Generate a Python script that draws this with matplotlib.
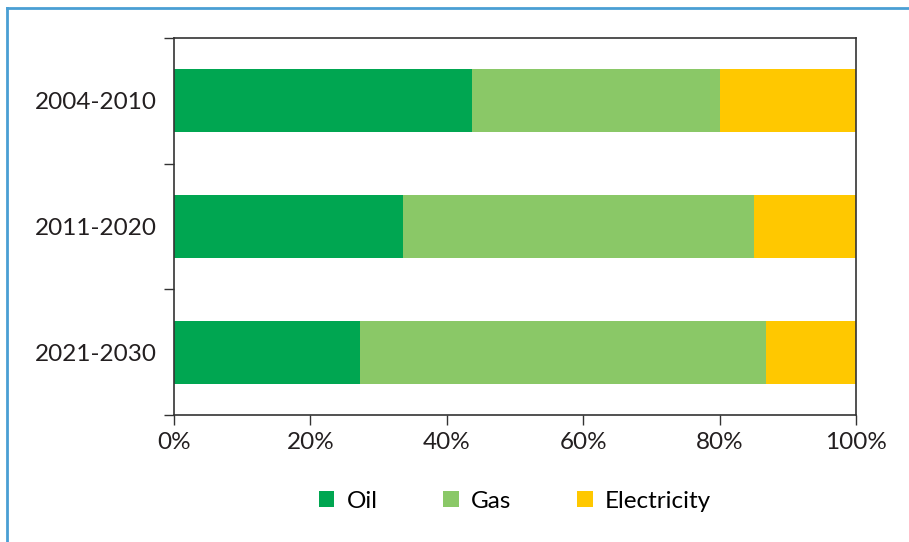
import matplotlib.pyplot as plt
from matplotlib.patches import Patch
from matplotlib.lines import Line2D
from matplotlib.ticker import PercentFormatter

periods = ["2004-2010", "2011-2020", "2021-2030"]
oil = [43.7, 33.6, 27.3]
gas = [36.3, 51.4, 59.5]
electricity = [20.0, 15.0, 13.2]
x_ticks = [0, 20, 40, 60, 80, 100]

colors = {"Oil": "#00A651", "Gas": "#8AC867", "Electricity": "#FFC800"}

plt.rcParams["font.family"] = ["Lato", "DejaVu Sans"]

fig = plt.figure(figsize=(9.09, 5.42), dpi=100)
ax = fig.add_axes([174 / 909, 1 - 415 / 542, 682 / 909, 377 / 542])

ypos = range(len(periods))
left = [0.0] * len(periods)
for name, vals in (("Oil", oil), ("Gas", gas), ("Electricity", electricity)):
    ax.barh(ypos, vals, left=left, height=0.5, color=colors[name], label=name)
    left = [l + v for l, v in zip(left, vals)]

ax.set_xlim(0, 100)
ax.set_ylim(2.5, -0.5)
ax.set_xticks(x_ticks)
ax.xaxis.set_major_formatter(PercentFormatter(decimals=0))
ax.set_yticks(list(ypos))
ax.set_yticklabels(periods)
ax.set_yticks([-0.5, 0.5, 1.5, 2.5], minor=True)
ax.tick_params(axis="y", which="major", length=0, pad=12, labelsize=17.5, colors="#231F20")
ax.tick_params(axis="y", which="minor", length=7, width=1, color="#333333")
ax.tick_params(axis="x", length=7, width=1, color="#333333", pad=5, labelsize=17.5, labelcolor="#231F20")
for s in ax.spines.values():
    s.set_color("#333333")
    s.set_linewidth(1.2)

handles = [Patch(facecolor=colors[n], edgecolor="none", label=n) for n in colors]
fig.legend(handles=handles, loc="center", bbox_to_anchor=(515 / 909, 1 - 501 / 542),
           ncol=3, frameon=False, fontsize=17.5, handlelength=0.65, handleheight=0.65,
           handletextpad=0.5, columnspacing=2.7)

# thin blue frame along the top and left of the figure
fig.add_artist(Line2D([7 / 909, 1], [1 - 8 / 542, 1 - 8 / 542], transform=fig.transFigure,
                      color="#4A9FD4", lw=2))
fig.add_artist(Line2D([7 / 909, 7 / 909], [0, 1 - 8 / 542], transform=fig.transFigure,
                      color="#4A9FD4", lw=2))

fig.savefig("out.png", dpi=100)
